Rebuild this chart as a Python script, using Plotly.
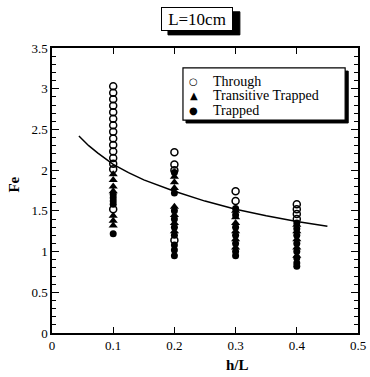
import plotly.graph_objects as go

# Through (open circles)
through_x = [0.1]*15 + [0.2]*4 + [0.3]*2 + [0.4]*4
through_y = [3.03, 2.95, 2.87, 2.79, 2.71, 2.63, 2.55, 2.47, 2.39, 2.31, 2.23, 2.15, 2.08, 2.01, 1.52,
             2.22, 2.07, 2.00, 1.14,
             1.74, 1.62,
             1.58, 1.52, 1.46, 1.40]

# Transitive Trapped (triangles)
trans_x = [0.1]*7 + [0.2]*7 + [0.3]*6 + [0.4]*5
trans_y = [1.95, 1.88, 1.80, 1.74, 1.44, 1.38, 1.32,
           1.92, 1.85, 1.78, 1.55, 1.45, 1.35, 1.25,
           1.50, 1.42, 1.35, 1.25, 1.15, 1.05,
           1.33, 1.25, 1.15, 1.05, 0.95]

# Trapped (filled dots)
trapped_x = [0.1]*5 + [0.2]*9 + [0.3]*7 + [0.4]*8
trapped_y = [1.70, 1.66, 1.62, 1.58, 1.22,
             1.97, 1.72, 1.50, 1.40, 1.30, 1.20, 1.08, 1.02, 0.95,
             1.53, 1.45, 1.30, 1.20, 1.10, 1.00, 0.95,
             1.35, 1.28, 1.20, 1.10, 1.00, 0.92, 0.86, 0.82]

# Fitted curve
curve_x = [0.044, 0.06, 0.075, 0.1, 0.125, 0.15, 0.2, 0.25, 0.3, 0.35, 0.4, 0.45]
curve_y = [2.42, 2.30, 2.21, 2.07, 1.97, 1.88, 1.74, 1.62, 1.52, 1.44, 1.37, 1.31]

x_ticks = [0, 0.1, 0.2, 0.3, 0.4, 0.5]
x_labels = ["0", "0.1", "0.2", "0.3", "0.4", "0.5"]
y_ticks = [0, 0.5, 1, 1.5, 2, 2.5, 3, 3.5]
y_labels = ["0", "0.5", "1", "1.5", "2", "2.5", "3", "3.5"]

legend_names = ["Through", "Transitive Trapped", "Trapped"]
legend_glyphs = ["○", "▲", "●"]

FONT = "Liberation Serif, Times New Roman, serif"

fig = go.Figure()
fig.add_trace(go.Scatter(x=curve_x, y=curve_y, mode="lines",
                         line=dict(color="black", width=1.5), showlegend=False))
fig.add_trace(go.Scatter(x=through_x, y=through_y, mode="markers", name=legend_names[0],
                         showlegend=False,
                         marker=dict(symbol="circle-open", size=7, color="black",
                                     line=dict(width=1.5, color="black"))))
fig.add_trace(go.Scatter(x=trans_x, y=trans_y, mode="markers", name=legend_names[1],
                         showlegend=False,
                         marker=dict(symbol="triangle-up", size=8, color="black")))
fig.add_trace(go.Scatter(x=trapped_x, y=trapped_y, mode="markers", name=legend_names[2],
                         showlegend=False,
                         marker=dict(symbol="circle", size=7, color="black")))

axis_common = dict(showgrid=False, zeroline=False, showline=True, linecolor="black",
                   linewidth=1.5, mirror="ticks", ticks="inside", tickcolor="black",
                   tickwidth=1.2, automargin=False,
                   tickfont=dict(family=FONT, size=13, color="black"))

fig.update_xaxes(range=[0, 0.5], tickvals=x_ticks, ticktext=x_labels, ticklen=6,
                 **axis_common)
fig.update_yaxes(range=[0, 3.5], tickvals=y_ticks, ticktext=y_labels, ticklen=7,
                 minor=dict(dtick=0.1, tick0=0, ticklen=4, ticks="inside", tickcolor="black",
                            tickwidth=1),
                 **axis_common)

# Axis titles
fig.add_annotation(xref="paper", yref="paper", x=0.605, y=-0.112,
                   xanchor="center", yanchor="middle", showarrow=False,
                   text="<b>h/L</b>", font=dict(family=FONT, size=15, color="black"))
fig.add_annotation(xref="paper", yref="paper", x=-0.125, y=0.52,
                   xanchor="center", yanchor="middle", showarrow=False, textangle=-90,
                   text="<b>Fe</b>", font=dict(family=FONT, size=15, color="black"))

# Title box with drop shadow
fig.add_shape(type="rect", xref="paper", yref="paper", x0=0.379, x1=0.614,
              y0=1.046, y1=1.127, line=dict(color="black", width=1), fillcolor="black",
              layer="above")
fig.add_annotation(xref="paper", yref="paper", x=0.474, y=1.103,
                   xanchor="center", yanchor="middle", width=70, height=22,
                   text="L=10cm", showarrow=False,
                   font=dict(family=FONT, size=17, color="black"),
                   bgcolor="white", bordercolor="black", borderwidth=1, borderpad=0)

# Legend (shadow + box + entries)
fig.add_shape(type="rect", xref="paper", yref="paper", x0=0.438, x1=0.968,
              y0=0.737, y1=0.919, line=dict(color="black", width=1), fillcolor="black",
              layer="above")
fig.add_shape(type="rect", xref="paper", yref="paper", x0=0.428, x1=0.958,
              y0=0.747, y1=0.930, line=dict(color="black", width=1.2), fillcolor="white",
              layer="above")
leg_y = [0.884, 0.832, 0.779]
for name, glyph, yy in zip(legend_names, legend_glyphs, leg_y):
    fig.add_annotation(xref="paper", yref="paper", x=0.464, y=yy, xanchor="center",
                       yanchor="middle", showarrow=False, text=glyph,
                       font=dict(family="DejaVu Sans", size=10, color="black"))
    fig.add_annotation(xref="paper", yref="paper", x=0.518, y=yy, xanchor="left",
                       yanchor="middle", showarrow=False, text=name,
                       font=dict(family=FONT, size=14, color="black"))

fig.update_layout(
    width=370, height=377,
    margin=dict(l=52, r=12, t=48, b=44),
    paper_bgcolor="white", plot_bgcolor="white",
    font=dict(family=FONT, color="black"),
    showlegend=False,
)

fig.write_html("out.html", config={"displayModeBar": False})

with open("out.html", "r", encoding="utf-8") as f:
    html = f.read()
html = html.replace("<head>", "<head><style>html,body{margin:0;padding:0;}</style>", 1)
with open("out.html", "w", encoding="utf-8") as f:
    f.write(html)
